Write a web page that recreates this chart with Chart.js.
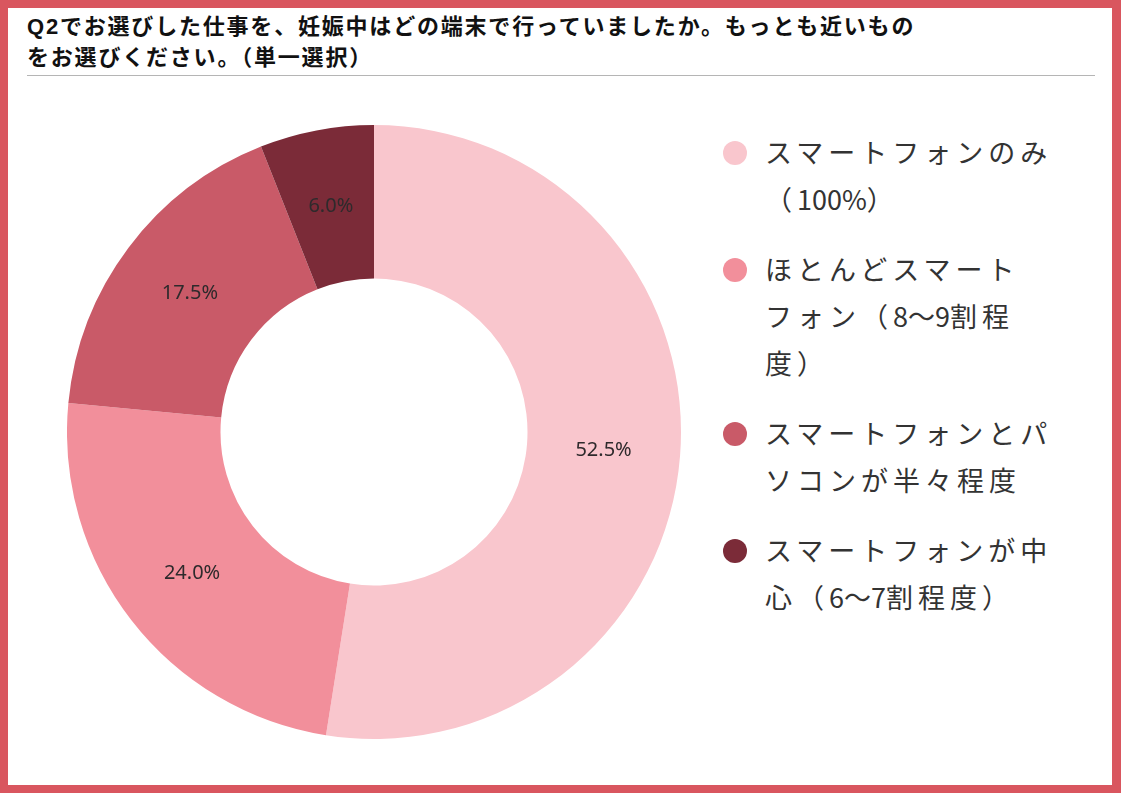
<!DOCTYPE html>
<html lang="ja">
<head>
<meta charset="utf-8">
<script src="https://cdn.jsdelivr.net/npm/chart.js@4.4.0/dist/chart.umd.min.js"></script>
<style>
  html, body { margin: 0; padding: 0; background: #fff; }
  body { width: 1121px; height: 793px; position: relative; overflow: hidden; }
  .frame {
    position: absolute; left: 0; top: 0; width: 1121px; height: 793px;
    box-sizing: border-box; border: 8px solid #d9565f; border-right-width: 9px;
  }
  .title {
    position: absolute; left: 27px; top: 11px; width: 895px;
    font-family: "Liberation Sans", "Noto Sans CJK JP", sans-serif;
    font-weight: bold; font-size: 22px; letter-spacing: 1.8px;
    line-height: 31px; color: #111;
  }
  .rule { position: absolute; left: 27px; top: 75px; width: 1068px; height: 1px; background: #b5b5b5; }
  .chart-box { position: absolute; left: 67px; top: 125px; width: 614px; height: 614px; }
  .legend {
    position: absolute; left: 722px; top: 128px; width: 350px;
    font-family: "Noto Sans CJK JP", "Noto Sans", sans-serif;
    font-size: 27px; letter-spacing: 5px; line-height: 47px; color: #333;
  }
  .legend .item { position: relative; padding-left: 43px; margin-bottom: 23px; }
  .legend .dot { position: absolute; left: 1px; top: 13px; width: 24px; height: 24px; border-radius: 50%; }
  .legend .txt { display: block; width: 296px; line-break: strict; word-break: normal; }
  .legend .num { letter-spacing: 0; }
</style>
</head>
<body>
<div class="frame"></div>
<div class="title" id="title"></div>
<div class="rule"></div>
<div class="chart-box"><canvas id="donut"></canvas></div>
<div class="legend" id="legend"></div>

<script>
const titleText = "Q2でお選びした仕事を、妊娠中はどの端末で行っていましたか。もっとも近いものをお選びください。（単一選択）";
const categories = [
  "スマートフォンのみ（100%）",
  "ほとんどスマートフォン（8〜9割程度）",
  "スマートフォンとパソコンが半々程度",
  "スマートフォンが中心（6〜7割程度）"
];
const shares = [52.5, 24.0, 17.5, 6.0];
const colors = ["#f9c6cd", "#f28f9b", "#c95a68", "#7b2b38"];

document.getElementById("title").textContent = titleText;

// Legend built from the same arrays; number runs get no extra letter spacing
const legendEl = document.getElementById("legend");
categories.forEach((name, i) => {
  const item = document.createElement("div");
  item.className = "item";
  const dot = document.createElement("span");
  dot.className = "dot";
  dot.style.background = colors[i];
  const txt = document.createElement("span");
  txt.className = "txt";
  name.split(/([0-9%〜]+)/).forEach(part => {
    if (!part) return;
    if (/^[0-9%〜]+$/.test(part)) {
      const s = document.createElement("span");
      s.className = "num";
      s.textContent = part;
      txt.appendChild(s);
    } else {
      txt.appendChild(document.createTextNode(part));
    }
  });
  item.appendChild(dot);
  item.appendChild(txt);
  legendEl.appendChild(item);
});

// Percent labels in the middle of each slice
const sliceLabels = {
  id: "sliceLabels",
  afterDatasetsDraw(chart) {
    const ctx = chart.ctx;
    const meta = chart.getDatasetMeta(0);
    ctx.save();
    ctx.font = '20px "Noto Sans", "DejaVu Sans", sans-serif';
    ctx.fillStyle = "#2e2a2c";
    ctx.textAlign = "center";
    ctx.textBaseline = "middle";
    meta.data.forEach((arc, i) => {
      const pos = arc.tooltipPosition();
      ctx.fillText(shares[i].toFixed(1) + "%", pos.x, pos.y);
    });
    ctx.restore();
  }
};

new Chart(document.getElementById("donut").getContext("2d"), {
  type: "doughnut",
  data: {
    labels: categories,
    datasets: [{
      data: shares,
      backgroundColor: colors,
      borderWidth: 0
    }]
  },
  options: {
    responsive: true,
    maintainAspectRatio: false,
    animation: false,
    cutout: "50%",
    layout: { padding: 0 },
    plugins: {
      legend: { display: false },
      tooltip: { enabled: false }
    }
  },
  plugins: [sliceLabels]
});
</script>
</body>
</html>
